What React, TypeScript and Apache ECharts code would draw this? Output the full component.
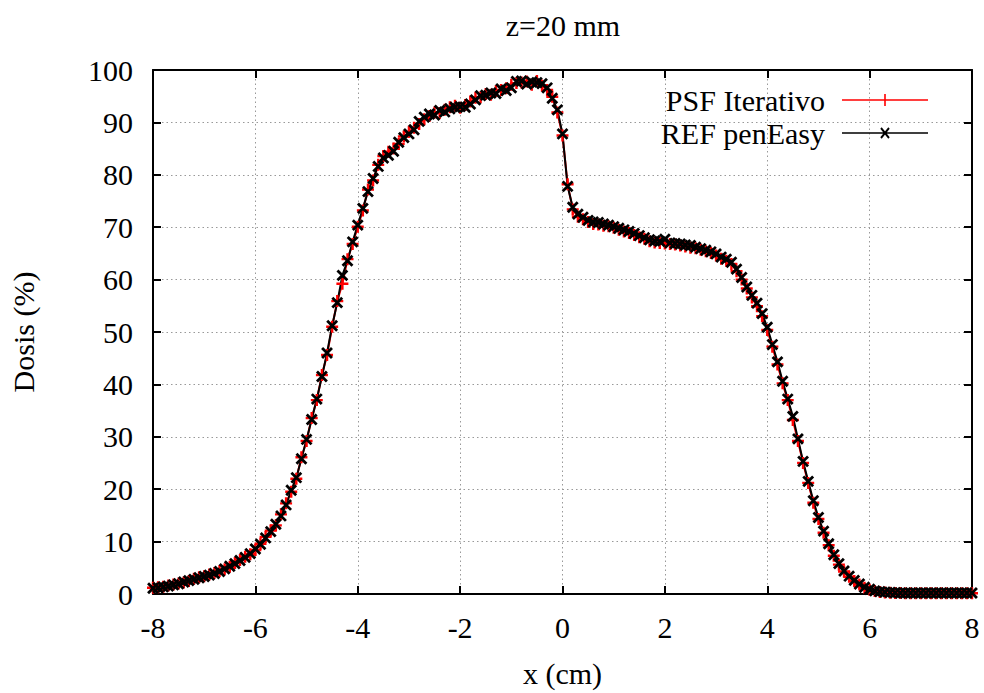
import React, { useEffect, useRef } from "react";
import * as echarts from "echarts";

const xStart = -8;
const xStep = 0.1;

const refValues = [
  1.1, 1.2, 1.35, 1.5, 1.75, 1.95, 2.3, 2.55, 2.8, 3.1,
  3.35, 3.6, 3.9, 4.3, 4.8, 5.3, 5.8, 6.4, 7.0, 7.7,
  8.6, 9.5, 10.7, 11.9, 13.3, 14.9, 17.0, 19.8, 22.2, 25.8,
  29.5, 33.3, 37.2, 41.5, 46.0, 51.2, 55.6, 60.8, 63.6, 67.2,
  70.4, 73.6, 76.8, 79.3, 81.6, 83.2, 83.7, 84.5, 86.2, 87.1,
  87.8, 88.6, 90.2, 91.0, 91.6, 91.4, 92.3, 92.0, 92.6, 92.9,
  93.0, 92.9, 93.5, 94.3, 95.1, 95.2, 95.6, 95.5, 96.4, 96.1,
  96.6, 97.8, 97.9, 97.3, 97.7, 97.6, 97.4, 96.6, 94.6, 92.4,
  87.8, 77.8, 73.8, 72.5, 71.9, 71.3, 71.0, 70.9, 70.6, 70.4,
  70.1, 69.8, 69.5, 69.2, 68.8, 68.4, 68.0, 67.6, 67.4, 67.3,
  67.7, 67.0, 66.9, 66.8, 66.6, 66.5, 66.2, 65.9, 65.6, 65.3,
  64.9, 64.3, 63.9, 63.3, 62.0, 60.4, 58.6, 57.0, 55.5, 53.5,
  50.9, 47.6, 44.3, 40.6, 37.2, 33.9, 29.6, 25.3, 21.5, 17.8,
  14.6, 12.0, 9.6, 7.5, 5.8, 4.4, 3.4, 2.6, 1.9, 1.3,
  0.9, 0.6, 0.45, 0.35, 0.3, 0.25, 0.2, 0.2, 0.2, 0.2,
  0.2, 0.2, 0.2, 0.2, 0.2, 0.2, 0.2, 0.2, 0.2, 0.2,
  0.2,
];

const psfValues = [
  1.2, 1.3, 1.4, 1.6, 1.8, 2.0, 2.2, 2.5, 2.9, 3.2,
  3.4, 3.7, 4.0, 4.4, 4.7, 5.2, 5.9, 6.5, 7.1, 7.6,
  8.4, 9.6, 10.9, 12.1, 13.1, 15.2, 17.3, 19.5, 22.0, 26.1,
  29.2, 33.6, 37.0, 41.8, 45.6, 51.0, 55.9, 59.2, 63.9, 66.8,
  70.1, 73.2, 77.2, 78.9, 81.9, 83.6, 84.4, 85.0, 85.9, 87.3,
  88.2, 89.0, 89.7, 90.6, 91.2, 91.9, 91.8, 92.4, 92.9, 93.2,
  92.8, 93.3, 94.0, 94.7, 94.8, 95.4, 95.3, 96.0, 96.2, 96.5,
  97.2, 97.5, 97.6, 97.8, 97.2, 97.9, 97.0, 96.2, 94.9, 91.9,
  87.5, 78.2, 73.4, 72.0, 71.5, 71.0, 70.6, 70.5, 70.3, 70.2,
  69.9, 69.5, 69.2, 68.9, 68.5, 68.1, 67.8, 67.3, 67.1, 67.0,
  66.9, 66.8, 66.7, 66.5, 66.3, 66.1, 66.0, 65.7, 65.4, 65.1,
  64.6, 64.0, 63.6, 63.0, 61.6, 60.0, 58.3, 56.6, 54.9, 53.0,
  50.4, 47.2, 43.8, 40.2, 37.0, 33.2, 29.2, 25.0, 21.2, 17.4,
  14.3, 11.7, 9.3, 7.3, 5.6, 4.3, 3.3, 2.5, 1.8, 1.2,
  0.8, 0.55, 0.4, 0.3, 0.25, 0.2, 0.2, 0.15, 0.15, 0.15,
  0.15, 0.15, 0.15, 0.15, 0.15, 0.15, 0.15, 0.15, 0.15, 0.15,
  0.15,
];

const xTicks = { min: -8, max: 8, interval: 2 };
const yTicks = { min: 0, max: 100, interval: 10 };
const seriesNames = ["PSF Iterativo", "REF penEasy"];
const titleText = "z=20 mm";
const xName = "x (cm)";
const yName = "Dosis (%)";

const FONT = "Liberation Serif";
const FS = 30;
const PLUS = "path://M4,0H6V10H4ZM0,4H10V6H0Z";
const LEG_PLUS = "path://M0,5.2H86V6.8H0ZM42.2,0H43.8V12H42.2Z";
const LEG_CROSS =
  "path://M0,5.2H86V6.8H0ZM38.3,1.7L39.7,0.3L47.7,10.3L46.3,11.7ZM38.3,10.3L46.3,0.3L47.7,1.7L39.7,11.7Z";

function toPairs(vals: number[]) {
  return vals.map((v, i) => [Number((xStart + i * xStep).toFixed(2)), v]);
}

export default function App() {
  const ref = useRef<HTMLDivElement>(null);
  useEffect(() => {
    if (!ref.current) return;
    const chart = echarts.init(ref.current, null, { renderer: "svg" });
    const axisLine = { show: true, onZero: false, lineStyle: { color: "#000", width: 2 } };
    const tick = { show: true, inside: true, length: 8, lineStyle: { color: "#000", width: 2 } };
    const split = { show: true, lineStyle: { color: "#999", width: 1, type: [1.5, 3] as any } };
    chart.setOption({
      animation: false,
      backgroundColor: "#fff",
      textStyle: { fontFamily: FONT, color: "#000" },
      title: {
        text: titleText,
        left: 558,
        textAlign: "center",
        top: 5,
        textStyle: { fontFamily: FONT, fontSize: FS, fontWeight: "normal", color: "#000" },
      },
      grid: { left: 152, right: 12, top: 70, bottom: 99 },
      legend: {
        orient: "vertical",
        align: "right",
        right: 51,
        top: 80,
        itemWidth: 86,
        itemHeight: 12,
        itemGap: 3,
        textStyle: { fontFamily: FONT, fontSize: FS, color: "#000", padding: [0, 12, 0, 0] },
        data: [
          { name: seriesNames[0], icon: LEG_PLUS, itemStyle: { color: "#ff0000" } },
          { name: seriesNames[1], icon: LEG_CROSS, itemStyle: { color: "#000" } },
        ],
      },
      xAxis: [
        {
          type: "value",
          ...xTicks,
          name: xName,
          nameLocation: "middle",
          nameGap: 64,
          nameTextStyle: { fontFamily: FONT, fontSize: FS, color: "#000" },
          axisLine,
          axisTick: tick,
          splitLine: split,
          axisLabel: { fontFamily: FONT, fontSize: FS, color: "#000", margin: 18 },
        },
        {
          type: "value",
          ...xTicks,
          position: "top",
          axisLine,
          axisTick: tick,
          splitLine: { show: false },
          axisLabel: { show: false },
        },
      ],
      yAxis: [
        {
          type: "value",
          ...yTicks,
          name: yName,
          nameLocation: "middle",
          nameGap: 115,
          nameTextStyle: { fontFamily: FONT, fontSize: FS, color: "#000" },
          axisLine,
          axisTick: tick,
          splitLine: split,
          axisLabel: { fontFamily: FONT, fontSize: FS, color: "#000", margin: 20 },
        },
        {
          type: "value",
          ...yTicks,
          position: "right",
          axisLine,
          axisTick: tick,
          splitLine: { show: false },
          axisLabel: { show: false },
        },
      ],
      series: [
        {
          name: seriesNames[0],
          type: "line",
          data: toPairs(psfValues),
          symbol: PLUS,
          symbolSize: 12,
          showSymbol: true,
          showAllSymbol: true,
          itemStyle: { color: "#ff0000" },
          lineStyle: { color: "#ff0000", width: 2 },
        },
        {
          name: seriesNames[1],
          type: "line",
          data: toPairs(refValues),
          symbol: PLUS,
          symbolRotate: 45,
          symbolSize: 14,
          showSymbol: true,
          showAllSymbol: true,
          itemStyle: { color: "#000" },
          lineStyle: { color: "#000", width: 2 },
        },
      ],
    });
    return () => chart.dispose();
  }, []);
  return <div ref={ref} style={{ width: 984, height: 693, position: "absolute", left: 0, top: 0 }} />;
}
